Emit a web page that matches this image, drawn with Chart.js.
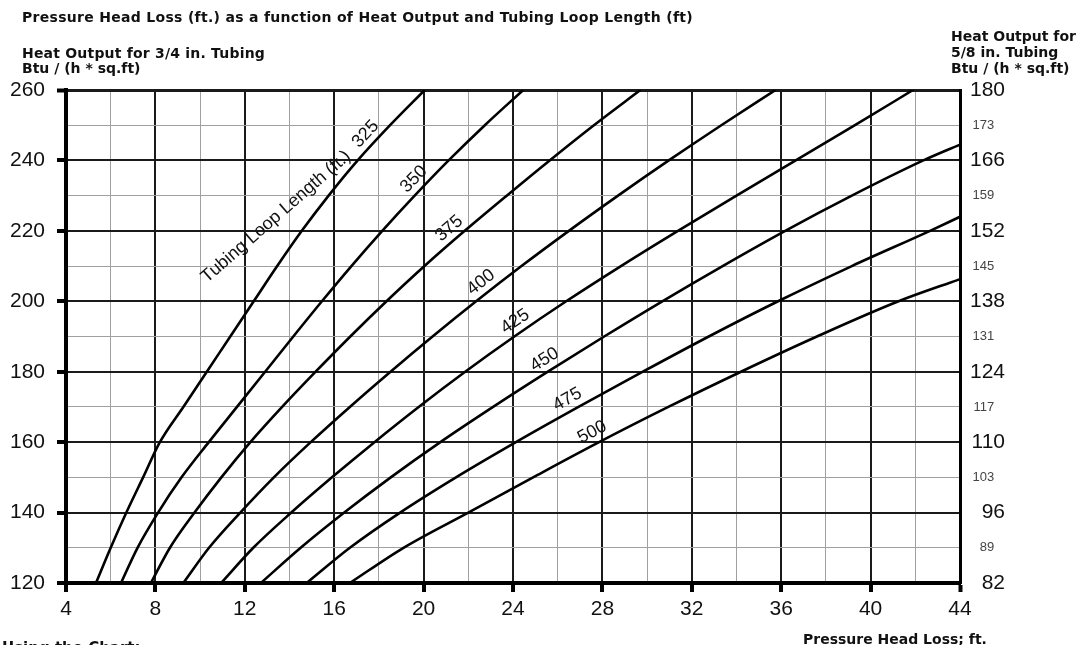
<!DOCTYPE html>
<html>
<head>
<meta charset="utf-8">
<script src="https://cdn.jsdelivr.net/npm/chart.js@4.4.1/dist/chart.umd.min.js"></script>
<style>
  html, body { margin: 0; padding: 0; background: #fff; overflow: hidden; }
  #wrap { position: relative; width: 1080px; height: 645px; overflow: hidden; }
  #grafico { position: absolute; left: 0; top: 0; }
  .txt { position: absolute; font-family: "DejaVu Sans", sans-serif; font-weight: bold;
         font-size: 14px; line-height: 16px; color: #111; white-space: nowrap; }
</style>
</head>
<body>
<div id="wrap">
  <canvas id="grafico" width="1080" height="645"></canvas>
  <div class="txt" style="left:22px; top:9px; letter-spacing:0.3px;">Pressure Head Loss (ft.) as a function of Heat Output and Tubing Loop Length (ft)</div>
  <div class="txt" style="left:22px; top:45px; letter-spacing:0.2px;">Heat Output for 3/4 in. Tubing</div>
  <div class="txt" style="left:22px; top:60px;">Btu / (h * sq.ft)</div>
  <div class="txt" style="left:951px; top:28px;">Heat Output for</div>
  <div class="txt" style="left:951px; top:44px;">5/8 in. Tubing</div>
  <div class="txt" style="left:951px; top:60px;">Btu / (h * sq.ft)</div>
  <div class="txt" style="left:803px; top:631px;">Pressure Head Loss; ft.</div>
  <div class="txt" style="left:2px; top:640px; font-size:15px;">Using the Chart:</div>
</div>
<script>
// curves: tubing loop length (ft)
var loopLengths = [325, 350, 375, 400, 425, 450, 475, 500];

// heat output 3/4 in. tubing, Btu/(h*sq.ft)
var heatLevels = [120, 130, 140, 150, 160, 170, 180, 190, 200, 210, 220, 230, 240, 250, 260];

// pressure head loss (ft) at each heat level
var loss325 = [5.34, 6.0, 6.7, 7.45, 8.2, 9.25, 10.3, 11.35, 12.4, 13.45, 14.55, 15.75, 17.05, 18.5, 20.05];
var loss350 = [6.46, 7.2, 8.12, 9.17, 10.39, 11.65, 12.91, 14.17, 15.45, 16.77, 18.15, 19.6, 21.12, 22.74, 24.46];
var loss375 = [7.8, 8.65, 9.75, 10.95, 12.25, 13.67, 15.17, 16.72, 18.34, 20.04, 21.84, 23.72, 25.64, 27.62, 29.7];
var loss400 = [9.25, 10.4, 11.8, 13.3, 14.95, 16.7, 18.52, 20.4, 22.35, 24.38, 26.5, 28.7, 30.97, 33.32, 35.75];
var loss425 = [10.94, 12.38, 14.08, 15.9, 17.8, 19.78, 21.86, 24.06, 26.38, 28.83, 31.38, 34.0, 36.65, 39.3, 41.9];
var loss450 = [12.72, 14.5, 16.45, 18.53, 20.75, 23.11, 25.56, 28.08, 30.68, 33.38, 36.18, 39.16, 42.36];
var loss475 = [14.77, 16.7, 18.95, 21.45, 24.13, 26.93, 29.81, 32.76, 35.86, 39.16, 42.66];
var loss500 = [16.7, 19.1, 22.0, 24.9, 27.85, 30.95, 34.2, 37.6, 41.25];
var lossLists = [loss325, loss350, loss375, loss400, loss425, loss450, loss475, loss500];

// heat level where a curve leaves through the right edge (x = 44)
var rightEdgeHeat = [null, null, null, null, null, 244.5, 224, 206.3];

// tick labels
var xLabels = [4, 8, 12, 16, 20, 24, 28, 32, 36, 40, 44];
var leftLabels = [120, 140, 160, 180, 200, 220, 240, 260];
var rightMajor = [82, 96, 110, 124, 138, 152, 166, 180];
var rightMinor = [89, 103, 117, 131, 145, 159, 173];

// where along x each loop-length label sits on its curve
var labelAt = [17.8, 19.95, 21.5, 22.9, 24.4, 25.7, 26.7, 27.8];

var FONT = '"Liberation Sans", Arial, sans-serif';

var datasets = loopLengths.map(function (len, i) {
    var pts = lossLists[i].map(function (x, k) {
        return { x: x, y: heatLevels[k] };
    });
    if (rightEdgeHeat[i] !== null) {
        pts.push({ x: 44, y: rightEdgeHeat[i] });
    }
    return {
        label: String(len),
        data: pts,
        showLine: true,
        borderColor: '#000',
        borderWidth: 2.6,
        pointRadius: 0,
        cubicInterpolationMode: 'monotone',
        yAxisID: 'y'
    };
});

// rotated labels along the curves
var curveLabels = {
    id: 'curveLabels',
    afterDatasetsDraw: function (chart) {
        var c = chart.ctx;
        var xs = chart.scales.x;
        var ys = chart.scales.y;
        c.save();
        c.fillStyle = '#111';
        c.font = '18px ' + FONT;
        c.textAlign = 'center';
        c.textBaseline = 'middle';
        chart.data.datasets.forEach(function (ds, i) {
            var pts = chart.getDatasetMeta(i).data;
            var px = xs.getPixelForValue(labelAt[i]);
            for (var k = 1; k < pts.length; k++) {
                if (pts[k].x >= px) {
                    var a = pts[k - 1], b = pts[k];
                    var t = (px - a.x) / (b.x - a.x);
                    var py = a.y + t * (b.y - a.y);
                    var ang = Math.atan2(b.y - a.y, b.x - a.x);
                    var off = 12;
                    c.save();
                    c.translate(px + off * Math.sin(ang), py - off * Math.cos(ang));
                    c.rotate(ang);
                    c.fillText(ds.label, 0, 0);
                    c.restore();
                    break;
                }
            }
        });
        // caption along the first curve
        c.save();
        c.translate(xs.getPixelForValue(13.4), ys.getPixelForValue(224));
        c.rotate(-41 * Math.PI / 180);
        c.fillText('Tubing Loop Length (ft.)', 0, 0);
        c.restore();
        c.restore();
    }
};

function tickVal(ctx) { return ctx && ctx.tick ? ctx.tick.value : null; }
function isMajorX(v) { return xLabels.indexOf(v) >= 0; }
function isMajorY(v) { return leftLabels.indexOf(v) >= 0; }
function isMajorR(v) { return rightMajor.indexOf(v) >= 0; }

var chart = new Chart(document.getElementById('grafico'), {
    type: 'scatter',
    data: { datasets: datasets },
    plugins: [curveLabels],
    options: {
        responsive: false,
        animation: false,
        devicePixelRatio: 1,
        layout: { padding: { top: 90, left: 0, right: 75, bottom: 0 } },
        plugins: {
            legend: { display: false },
            title: { display: false },
            tooltip: { enabled: false }
        },
        scales: {
            x: {
                type: 'linear',
                min: 4,
                max: 44,
                afterFit: function (s) { s.height = 62; },
                border: { display: true, color: '#000', width: 4 },
                grid: {
                    color: function (ctx) { return isMajorX(tickVal(ctx)) ? '#1a1a1a' : '#a0a0a0'; },
                    lineWidth: function (ctx) {
                        var v = tickVal(ctx);
                        if (v === 44) return 3;
                        return isMajorX(v) ? 2 : 1;
                    },
                    drawTicks: true,
                    tickLength: 9,
                    tickColor: function (ctx) { return isMajorX(tickVal(ctx)) ? '#000' : 'rgba(0,0,0,0)'; },
                    tickWidth: 4
                },
                ticks: {
                    stepSize: 2,
                    autoSkip: false,
                    maxRotation: 0,
                    padding: 5,
                    color: '#111',
                    font: { family: FONT, size: 21 },
                    callback: function (v) { return isMajorX(v) ? String(v) : ''; }
                }
            },
            y: {
                type: 'linear',
                position: 'left',
                min: 120,
                max: 260,
                afterFit: function (s) { s.width = 66; },
                border: { display: true, color: '#000', width: 4 },
                grid: {
                    color: function (ctx) { return isMajorY(tickVal(ctx)) ? '#1a1a1a' : '#a0a0a0'; },
                    lineWidth: function (ctx) {
                        var v = tickVal(ctx);
                        if (v === 260) return 3;
                        return isMajorY(v) ? 2 : 1;
                    },
                    drawTicks: true,
                    tickLength: 9,
                    tickColor: function (ctx) { return isMajorY(tickVal(ctx)) ? '#000' : 'rgba(0,0,0,0)'; },
                    tickWidth: 4
                },
                ticks: {
                    stepSize: 10,
                    autoSkip: false,
                    padding: 12,
                    color: '#111',
                    font: { family: FONT, size: 21 },
                    callback: function (v) { return isMajorY(v) ? String(v) : ''; }
                }
            },
            y2: {
                type: 'linear',
                position: 'right',
                min: 82,
                max: 180,
                afterFit: function (s) { s.width = 45; },
                border: { display: true, color: '#000', width: 3 },
                grid: { drawOnChartArea: false, drawTicks: false },
                ticks: {
                    stepSize: 7,
                    autoSkip: false,
                    padding: 10,
                    crossAlign: 'far',
                    color: function (ctx) { return isMajorR(tickVal(ctx)) ? '#111' : '#444'; },
                    font: function (ctx) {
                        return isMajorR(tickVal(ctx))
                            ? { family: FONT, size: 21 }
                            : { family: FONT, size: 13 };
                    },
                    callback: function (v) {
                        if (isMajorR(v)) return String(v);
                        if (rightMinor.indexOf(v) >= 0) return String(v) + '   ';
                        return '';
                    }
                }
            }
        }
    }
});
</script>
</body>
</html>
